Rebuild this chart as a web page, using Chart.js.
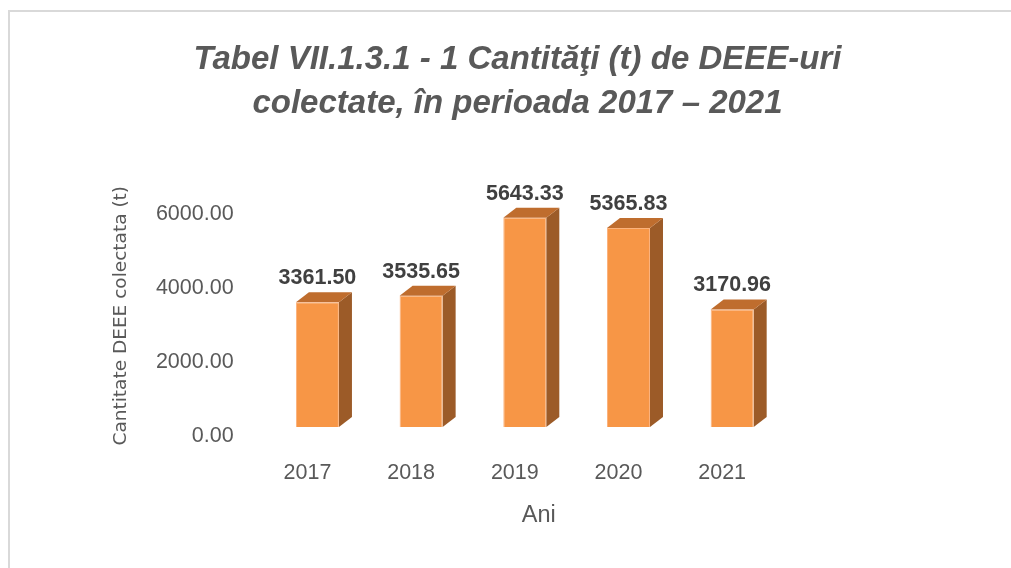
<!DOCTYPE html>
<html>
<head>
<meta charset="utf-8">
<script src="https://cdn.jsdelivr.net/npm/chart.js@4"></script>
<style>
  html, body { margin: 0; padding: 0; background: #fff; }
  #wrap { position: relative; width: 1011px; height: 568px; overflow: hidden; }
  #frame { position: absolute; left: 8px; top: 10px; width: 1100px; height: 700px;
           border-top: 2px solid #d9d9d9; border-left: 2px solid #d9d9d9; }
  #chart { position: absolute; left: 0; top: 0; }
</style>
</head>
<body>
<div id="wrap">
  <div id="frame"></div>
  <canvas id="chart" width="1011" height="568"></canvas>
</div>
<script>
// data
const years = ["2017", "2018", "2019", "2020", "2021"];
const tonnes = [3361.50, 3535.65, 5643.33, 5365.83, 3170.96];
const yTicks = [0, 2000, 4000, 6000];

const titleLines = ["Tabel VII.1.3.1 - 1 Cantităţi (t) de DEEE-uri", "colectate, în perioada 2017 – 2021"];
const yTitle = "Cantitate DEEE colectata (t)";
const xTitle = "Ani";

const FRONT = "#f79646";
const TOP = "#bf6d2e";
const SIDE = "#9c5b28";
const DX = 13, DY = -10; // depth of the fake 3d

// draws top + side faces of each bar, the value labels and the x axis title
const bar3d = {
  id: "bar3d",
  beforeDatasetsDraw(chart) {
    const ctx = chart.ctx;
    chart.getDatasetMeta(0).data.forEach((bar) => {
      const { x, y, base, width } = bar.getProps(["x", "y", "base", "width"], true);
      const l = x - width / 2, r = x + width / 2;
      ctx.save();
      ctx.fillStyle = SIDE;
      ctx.beginPath();
      ctx.moveTo(r, y);
      ctx.lineTo(r + DX, y + DY);
      ctx.lineTo(r + DX, base + DY);
      ctx.lineTo(r, base);
      ctx.closePath();
      ctx.fill();
      ctx.fillStyle = TOP;
      ctx.beginPath();
      ctx.moveTo(l, y);
      ctx.lineTo(l + DX, y + DY);
      ctx.lineTo(r + DX, y + DY);
      ctx.lineTo(r, y);
      ctx.closePath();
      ctx.fill();
      ctx.restore();
    });
  },
  afterDatasetsDraw(chart) {
    const ctx = chart.ctx;
    ctx.save();
    ctx.fillStyle = "#404040";
    ctx.font = "bold 21.5px 'Liberation Sans', Arial, sans-serif";
    ctx.textAlign = "center";
    ctx.textBaseline = "alphabetic";
    chart.getDatasetMeta(0).data.forEach((bar, i) => {
      ctx.fillText(tonnes[i].toFixed(2), bar.x, bar.y - 18);
    });
    const area = chart.chartArea;
    ctx.fillStyle = "#595959";
    ctx.font = "23.5px 'Liberation Sans', Arial, sans-serif";
    ctx.textBaseline = "middle";
    ctx.fillText(xTitle, (area.left + area.right) / 2 + 14, 516);
    ctx.restore();
  },
};

new Chart(document.getElementById("chart"), {
  type: "bar",
  data: {
    labels: years,
    datasets: [
      {
        data: tonnes,
        backgroundColor: FRONT,
        borderColor: "#fbb27c",
        borderWidth: 1,
        barPercentage: 0.415,
        categoryPercentage: 1,
      },
    ],
  },
  options: {
    responsive: false,
    animation: false,
    layout: { padding: { top: 12, left: 30, right: 6, bottom: 0 } },
    plugins: {
      legend: { display: false },
      tooltip: { enabled: false },
      title: {
        display: true,
        text: titleLines,
        color: "#595959",
        font: { family: "'Liberation Sans', Arial, sans-serif", size: 33, style: "italic", weight: "bold", lineHeight: 1.34 },
        padding: { top: 26, bottom: 78 },
      },
    },
    scales: {
      x: {
        grid: { display: false },
        border: { display: false },
        ticks: {
          color: "#595959",
          font: { family: "'Liberation Sans', Arial, sans-serif", size: 21.5 },
          padding: 25,
          labelOffset: -10,
        },
        afterFit: (scale) => { scale.height = 141; },
      },
      y: {
        min: 0,
        max: 6000,
        grid: { display: false, drawTicks: false },
        border: { display: false },
        afterBuildTicks: (scale) => { scale.ticks = yTicks.map((v) => ({ value: v })); },
        ticks: {
          color: "#595959",
          font: { family: "'Liberation Sans', Arial, sans-serif", size: 21.5 },
          padding: 32,
          labelOffset: 9.5,
          callback: (v) => Number(v).toFixed(2),
        },
        title: {
          display: true,
          text: yTitle,
          color: "#595959",
          font: { family: "'DejaVu Sans', sans-serif", size: 18.5 },
          padding: { top: 80, bottom: 0 },
        },
        afterFit: (scale) => { scale.width = 235.6; },
      },
      // empty spacer on the right so the plot sits left of the centred title
      spacer: {
        position: "right",
        grid: { display: false },
        border: { display: false },
        ticks: { display: false },
        afterFit: (scale) => { scale.width = 221; },
      },
    },
  },
  plugins: [bar3d],
});
</script>
</body>
</html>
